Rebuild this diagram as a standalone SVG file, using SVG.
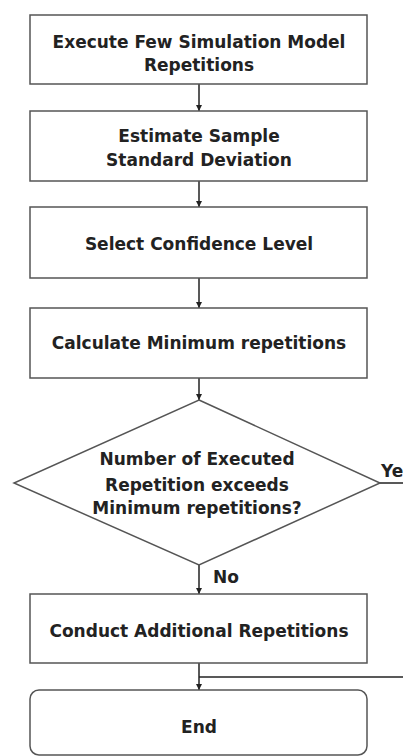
<svg xmlns="http://www.w3.org/2000/svg" width="403" height="756" viewBox="0 0 403 756">
<defs>
<style>
.box{fill:#fff;stroke:#555;stroke-width:1.5}
.t{font-family:"DejaVu Sans",sans-serif;font-weight:bold;font-size:17px;fill:#222;text-anchor:middle}
.c{fill:none;stroke:#222;stroke-width:1.5}
</style>
<marker id="ah" viewBox="0 0 8 8" refX="8" refY="4" markerWidth="6" markerHeight="6" orient="auto" markerUnits="userSpaceOnUse">
<path d="M0,0 L8,4 L0,8 Z" fill="#222"/>
</marker>
</defs>
<rect width="403" height="756" fill="#fff"/>
<g id="connectors">
<line class="c" x1="199" y1="84" x2="199" y2="111" marker-end="url(#ah)"/>
<line class="c" x1="199" y1="181" x2="199" y2="207" marker-end="url(#ah)"/>
<line class="c" x1="199" y1="278" x2="199" y2="308" marker-end="url(#ah)"/>
<line class="c" x1="199" y1="378" x2="199" y2="400" marker-end="url(#ah)"/>
<line class="c" x1="199" y1="565" x2="199" y2="594" marker-end="url(#ah)"/>
<line class="c" x1="199" y1="663" x2="199" y2="690" marker-end="url(#ah)"/>
<line class="c" x1="199" y1="677" x2="403" y2="677"/>
<line class="c" x1="380" y1="483" x2="403" y2="483"/>
<text class="t" x="213" y="583" style="text-anchor:start">No</text>
<text class="t" x="381" y="477" style="text-anchor:start">Ye</text>
</g>
<g id="n1">
<rect class="box" x="30" y="15" width="337" height="69"/>
<text class="t" x="199" y="48">Execute Few Simulation Model</text>
<text class="t" x="199" y="71">Repetitions</text>
</g>
<g id="n2">
<rect class="box" x="30" y="111" width="337" height="70"/>
<text class="t" x="199" y="142">Estimate Sample</text>
<text class="t" x="199" y="166">Standard Deviation</text>
</g>
<g id="n3">
<rect class="box" x="30" y="207" width="337" height="71"/>
<text class="t" x="199" y="250">Select Confidence Level</text>
</g>
<g id="n4">
<rect class="box" x="30" y="308" width="337" height="70"/>
<text class="t" x="199" y="349">Calculate Minimum repetitions</text>
</g>
<g id="n5">
<polygon class="box" points="199,400 380,483 199,565 14,483"/>
<text class="t" x="197" y="465">Number of Executed</text>
<text class="t" x="197" y="491">Repetition exceeds</text>
<text class="t" x="197" y="514">Minimum repetitions?</text>
</g>
<g id="n6">
<rect class="box" x="30" y="594" width="337" height="69"/>
<text class="t" x="199" y="637">Conduct Additional Repetitions</text>
</g>
<g id="n7">
<rect class="box" x="30" y="690" width="337" height="65" rx="9"/>
<text class="t" x="199" y="733">End</text>
</g>
</svg>
